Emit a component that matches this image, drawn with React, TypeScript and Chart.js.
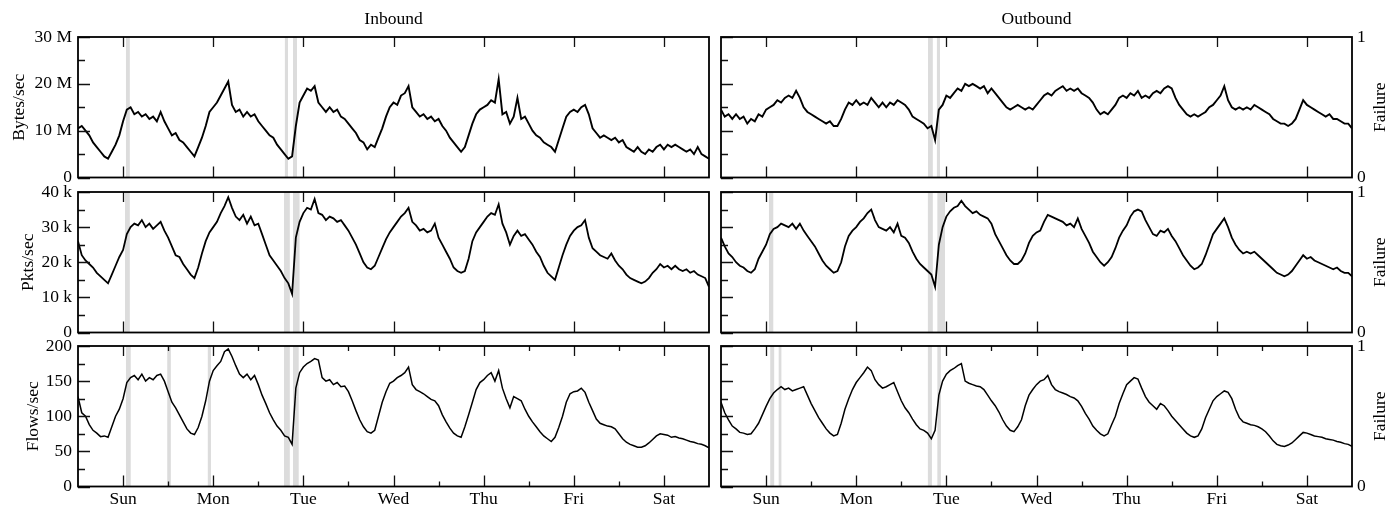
import React, { useEffect, useRef } from 'react';
import { Chart, registerables } from 'chart.js';

Chart.register(...registerables);

// ---------- data ----------
const DAY_LABELS = ['Sun', 'Mon', 'Tue', 'Wed', 'Thu', 'Fri', 'Sat'];
const DAY_TICKS = [0, 1, 2, 3, 4, 5, 6];
const HALF_DAY_TICKS = [0.5, 1.5, 2.5, 3.5, 4.5, 5.5];
const X_MIN = -0.5; // Saturday noon
const X_MAX = 6.5; // next Saturday noon
const SAMPLE_HOURS = 1;

// Inbound, bytes/sec (millions)
const IN_BYTES = [
  10.5, 11, 10, 9, 7.5, 6.5, 5.5, 4.5, 4, 5.5,
  7, 9, 12, 14.5, 15, 13.5, 14, 13, 13.5, 12.5,
  13, 12, 14, 12, 10.5, 9, 9.5, 8, 7.5, 6.5,
  5.5, 4.5, 6.5, 8.5, 11, 14, 15, 16, 17.5, 19,
  20.5, 15.5, 14, 14.5, 13, 14, 13, 13.5, 12, 11,
  10, 9, 8.5, 7, 6, 5, 4, 4.5, 11, 16,
  17.5, 19, 18.5, 19.5, 16, 15, 14, 15, 14, 14.5,
  13, 12.5, 11.5, 10.5, 9.5, 8, 7.5, 6, 7, 6.5,
  8.5, 10.5, 13, 15, 16, 15.5, 17.5, 18, 19.5, 15,
  14, 13, 13.5, 12.5, 13, 12, 12.5, 11, 10, 8.5,
  7.5, 6.5, 5.5, 6.5, 9, 11.5, 13.5, 14.5, 15, 15.5,
  16.5, 16, 21, 13.5, 14, 11.5, 13, 17, 12.5, 13,
  11.5, 10, 9, 8.5, 7.5, 7, 6.5, 5.5, 8, 10.5,
  13, 14, 14.5, 14, 15, 15.5, 13.5, 10.5, 9.5, 8.5,
  9, 8.5, 8, 8.5, 7.5, 8, 6.5, 6, 5.5, 6.5,
  5.5, 5, 6, 5.5, 6.5, 7, 6, 7, 6.5, 7,
  6.5, 6, 5.5, 6, 5, 6.5, 5, 4.5, 4,
];

// Inbound, packets/sec (thousands)
const IN_PKTS = [
  26, 22, 20.5, 19.5, 18.5, 17, 16, 15, 14, 16.5,
  19, 21.5, 23.5, 28, 30, 31, 30.5, 32, 30, 31,
  29.5, 30.5, 31.5, 29, 27, 24.5, 22, 21.5, 19.5, 18,
  16.5, 15.5, 18.5, 22.5, 26, 28.5, 30, 31.5, 34, 36,
  38.5, 35.5, 33, 32, 33.5, 31, 33, 30.5, 31, 28,
  25, 22, 20.5, 19, 17.5, 15.5, 14, 11, 27, 31.5,
  34, 35.5, 35, 38, 34, 33.5, 32, 33, 32.5, 31.5,
  32, 30.5, 29, 27, 25, 22.5, 20, 18.5, 18, 19,
  21.5, 24, 26.5, 28.5, 30, 31.5, 33, 34, 35.5, 31.5,
  30.5, 29, 29.5, 28.5, 29, 31, 27, 25, 23, 21,
  18.5, 17.5, 17, 17.5, 21, 26, 28.5, 30, 31.5, 33,
  34, 33.5, 36.5, 31, 28.5, 25, 27.5, 29, 27.5, 28,
  26.5, 25, 23, 21.5, 19, 17, 16, 15, 18.5, 22,
  25, 27.5, 29, 30, 30.5, 32, 27, 24, 23, 22,
  21.5, 21, 22.5, 20.5, 19, 18, 16.5, 15.5, 15, 14.5,
  14, 14.5, 15.5, 17, 18, 19.5, 18.5, 19, 18, 19,
  18, 17.5, 18, 17, 17.5, 16.5, 16, 15.5, 13,
];

// Inbound, flows/sec
const IN_FLOWS = [
  128, 105, 100, 88, 80, 76, 71, 72, 70, 85,
  100, 110, 125, 148, 155, 158, 152, 160, 150, 155,
  152, 158, 160, 150, 135, 120, 112, 102, 92, 82,
  76, 74, 84, 100, 122, 150, 165, 172, 178, 192,
  196, 185, 172, 160, 155, 160, 152, 158, 145, 130,
  118, 105, 95, 86, 80, 72, 70, 60, 140, 162,
  170, 175, 178, 182, 180, 155, 150, 152, 145, 148,
  142, 143, 135, 122, 108, 95, 85, 78, 76, 80,
  100, 120, 135, 147, 150, 155, 158, 162, 170, 145,
  138, 135, 132, 128, 124, 122, 115, 102, 92, 83,
  76, 72, 70, 85, 102, 120, 138, 148, 152, 158,
  162, 150, 165, 140, 125, 112, 128, 125, 122, 110,
  100, 92, 85, 78, 72, 68, 64, 70, 84, 100,
  120, 132, 135, 136, 140, 134, 120, 108, 96, 90,
  88, 86, 85, 82, 75, 68, 63, 60, 58, 56,
  56, 58, 62, 67, 72, 75, 74, 73, 70, 71,
  69, 68, 66, 64, 63, 61, 60, 58, 55,
];

// Outbound, bytes/sec (millions)
const OUT_BYTES = [
  14.5, 13, 13.5, 12.5, 13.5, 12.5, 13, 11.5, 12.5, 12,
  13.5, 13, 14.5, 15, 15.5, 16.5, 16, 17, 17.5, 17,
  18.5, 17, 15, 14, 13.5, 13, 12.5, 12, 11.5, 12,
  11, 11, 12.5, 14.5, 16, 15.5, 16.5, 15.5, 16, 15.5,
  17, 16, 15, 16, 15, 16, 15.5, 16.5, 16, 15.5,
  14.5, 13, 12.5, 12, 11.5, 10.5, 11, 8, 14.5, 15.5,
  17.5, 17, 18, 19, 18.5, 20, 19.5, 20, 19.5, 19,
  19.5, 18, 19, 18, 17, 16, 15, 14.5, 15, 15.5,
  15, 14.5, 15, 14.5, 15.5, 16.5, 17.5, 18, 17.5, 18.5,
  19, 19.5, 18.5, 19, 18.5, 19, 18, 17.5, 17, 16,
  14.5, 13.5, 14, 13.5, 14.5, 15.5, 17, 17.5, 17, 18,
  17.5, 18.5, 17, 17.5, 17, 18, 18.5, 18, 19, 19.5,
  19, 17, 15.5, 14.5, 13.5, 13, 13.5, 13, 13.5, 14,
  15, 15.5, 16.5, 17.5, 19.5, 16.5, 15, 14.5, 15, 14.5,
  15, 14.5, 15.5, 15, 14.5, 14, 13.5, 12.5, 12, 11.5,
  11.5, 11, 11.5, 12.5, 14.5, 16.5, 15.5, 15, 14.5, 14,
  13.5, 13, 13.5, 12.5, 12.5, 12, 11.5, 11.5, 10.5,
];

// Outbound, packets/sec (thousands)
const OUT_PKTS = [
  27, 24.5, 22.5, 21.5, 20, 19, 18.5, 17.5, 17, 18,
  21, 23, 25, 28, 29.5, 30, 31, 30.5, 30, 31,
  29.5, 31, 29, 27.5, 26, 24.5, 22.5, 20.5, 19, 18,
  17, 17.5, 20, 24.5, 27.5, 29, 30, 31.5, 32.5, 34,
  35, 32, 30, 29.5, 29, 30, 28.5, 31, 27.5, 27,
  25.5, 23, 21, 19.5, 18.5, 17.5, 16.5, 13, 25, 30,
  33, 34.5, 35.5, 36, 37.5, 36, 35, 34, 34.5, 33.5,
  33, 32.5, 31, 28, 26, 24, 22, 20.5, 19.5, 19.5,
  20.5, 22.5, 25.5, 27.5, 28.5, 29, 31.5, 33.5, 33, 32.5,
  32, 31.5, 30.5, 31, 30, 32.5, 29.5, 27.5, 25.5, 23,
  21.5, 20, 19, 20, 21.5, 24, 27, 29, 30.5, 33,
  34.5, 35, 34.5, 32, 30, 28, 27.5, 29, 28.5, 29.5,
  27.5, 26, 24, 22, 20.5, 19, 18, 18.5, 19.5, 22,
  25, 28, 29.5, 31, 32.5, 30, 27, 25, 23.5, 22.5,
  23, 22.5, 23, 22, 21, 20, 19, 18, 17, 16.5,
  16, 16.5, 17.5, 19, 20.5, 22, 21, 21.5, 20.5, 20,
  19.5, 19, 18.5, 18, 18.5, 17.5, 17, 17, 16,
];

// Outbound, flows/sec
const OUT_FLOWS = [
  120, 105, 95, 86, 82, 77, 76, 74, 75, 82,
  90, 102, 114, 125, 133, 138, 142, 138, 140, 136,
  138, 140, 142, 130, 118, 108, 98, 90, 82, 76,
  72, 74, 90, 110, 125, 138, 148, 155, 162, 170,
  165, 152, 145, 140, 142, 145, 148, 135, 122, 112,
  105, 96, 88, 82, 80, 76, 68, 80, 130, 150,
  160, 165, 168, 172, 175, 150, 147, 145, 143, 142,
  138, 130, 122, 115, 106, 95, 86, 80, 78, 85,
  95, 115, 130, 138, 145, 150, 152, 158, 145, 138,
  135, 133, 131, 128, 126, 122, 114, 104, 96, 86,
  80, 75, 72, 75, 88, 100, 118, 132, 145, 150,
  155, 153, 140, 128, 120, 115, 110, 118, 115, 108,
  100, 94, 88, 82, 76, 72, 70, 72, 82, 98,
  110, 122, 128, 132, 136, 134, 125, 110, 98, 92,
  90, 88, 87, 85, 82, 78, 72, 65, 60, 58,
  57, 59, 62, 67, 72, 77, 76, 74, 72, 71,
  70, 68, 67, 66, 64, 63, 61, 60, 57,
];

// Failure periods [start, end] in days (0 = Sunday 00:00)
const FAIL_IN_BYTES = [[0.03, 0.075], [1.795, 1.83], [1.885, 1.93]];
const FAIL_IN_PKTS = [[0.02, 0.075], [1.785, 1.85], [1.885, 1.96]];
const FAIL_IN_FLOWS = [[0.03, 0.085], [0.49, 0.53], [0.94, 0.975], [1.785, 1.85], [1.885, 1.95]];
const FAIL_OUT_BYTES = [[1.795, 1.85], [1.895, 1.93]];
const FAIL_OUT_PKTS = [[0.03, 0.08], [1.795, 1.85], [1.9, 1.985]];
const FAIL_OUT_FLOWS = [[0.045, 0.09], [0.14, 0.17], [1.795, 1.84], [1.9, 1.94]];

// Axis ticks
const BYTES_TICKS = [0, 10, 20, 30];
const BYTES_LABELS = ['0', '10 M', '20 M', '30 M'];
const BYTES_MINOR = [5, 15, 25];
const PKTS_TICKS = [0, 10, 20, 30, 40];
const PKTS_LABELS = ['0', '10 k', '20 k', '30 k', '40 k'];
const PKTS_MINOR = [5, 15, 25, 35];
const FLOWS_TICKS = [0, 50, 100, 150, 200];
const FLOWS_LABELS = ['0', '50', '100', '150', '200'];
const FLOWS_MINOR = [25, 75, 125, 175];
const FAIL_TICKS = [0, 1];
const FAIL_LABELS = ['0', '1'];

const COLUMN_TITLES = ['Inbound', 'Outbound'];
const ROW_TITLES = ['Bytes/sec', 'Pkts/sec', 'Flows/sec'];
const FAIL_TITLE = 'Failure';

// ---------- panel definitions ----------
const ROWS = [
  { ticks: BYTES_TICKS, labels: BYTES_LABELS, minor: BYTES_MINOR, max: 30, titlePad: 9, lineWidth: 1.9 },
  { ticks: PKTS_TICKS, labels: PKTS_LABELS, minor: PKTS_MINOR, max: 40, titlePad: 18, lineWidth: 1.8 },
  { ticks: FLOWS_TICKS, labels: FLOWS_LABELS, minor: FLOWS_MINOR, max: 200, titlePad: 23, lineWidth: 1.5 },
];
const SERIES = [
  [IN_BYTES, OUT_BYTES],
  [IN_PKTS, OUT_PKTS],
  [IN_FLOWS, OUT_FLOWS],
];
const FAILS = [
  [FAIL_IN_BYTES, FAIL_OUT_BYTES],
  [FAIL_IN_PKTS, FAIL_OUT_PKTS],
  [FAIL_IN_FLOWS, FAIL_OUT_FLOWS],
];

const FONT_FAMILY = "'Liberation Serif', 'Times New Roman', 'DejaVu Serif', serif";
const FONT = { family: FONT_FAMILY, size: 17.5 };

const CANVAS_H = 196;
const ROW_TOPS = [0, 155, 309];
const COL_LEFTS = [0, 715];
const COL_WIDTHS = [715, 673];

function Panel({ row, col }: { row: number; col: number }) {
  const ref = useRef<HTMLCanvasElement | null>(null);

  useEffect(() => {
    const r = ROWS[row];
    const isLeft = col === 0;
    const isBottom = row === 2;
    const values = SERIES[row][col];
    const fails = FAILS[row][col];

    const lineData = values.map((v, i) => ({ x: X_MIN + (i * SAMPLE_HOURS) / 24, y: v }));
    const bandData: { x: number; y: number }[] = [];
    fails.forEach(([s, e]) => {
      bandData.push({ x: s, y: 0 }, { x: s, y: 1 }, { x: e, y: 1 }, { x: e, y: 0 });
    });

    const decor = {
      id: 'decor',
      afterDatasetsDraw(chart: any) {
        const { ctx, chartArea: a, scales } = chart;
        ctx.save();
        ctx.strokeStyle = '#111';
        ctx.lineWidth = 1.3;
        ctx.beginPath();
        DAY_TICKS.forEach((v) => {
          const px = Math.round(scales.x.getPixelForValue(v)) + 0.5;
          ctx.moveTo(px, a.bottom);
          ctx.lineTo(px, a.bottom - 11);
          ctx.moveTo(px, a.top);
          ctx.lineTo(px, a.top + 10);
        });
        if (isBottom) {
          HALF_DAY_TICKS.forEach((v) => {
            const px = Math.round(scales.x.getPixelForValue(v)) + 0.5;
            ctx.moveTo(px, a.bottom);
            ctx.lineTo(px, a.bottom - 5);
            ctx.moveTo(px, a.top);
            ctx.lineTo(px, a.top + 5);
          });
        }
        r.ticks.forEach((v) => {
          const py = Math.round(scales.y.getPixelForValue(v)) + 0.5;
          ctx.moveTo(a.left, py);
          ctx.lineTo(a.left + 12, py);
        });
        r.minor.forEach((v) => {
          const py = Math.round(scales.y.getPixelForValue(v)) + 0.5;
          ctx.moveTo(a.left, py);
          ctx.lineTo(a.left + 7, py);
        });
        ctx.stroke();

        ctx.strokeStyle = '#000';
        ctx.lineWidth = 1.8;
        ctx.strokeRect(a.left, a.top, a.right - a.left, a.bottom - a.top);

        ctx.fillStyle = '#000';
        ctx.font = `${FONT.size}px ${FONT_FAMILY}`;
        if (row === 0) {
          ctx.textAlign = 'center';
          ctx.textBaseline = 'middle';
          ctx.fillText(COLUMN_TITLES[col], (a.left + a.right) / 2, 19.5);
        }
        if (!isLeft) {
          ctx.translate(665, (a.top + a.bottom) / 2);
          ctx.rotate(-Math.PI / 2);
          ctx.textAlign = 'center';
          ctx.textBaseline = 'middle';
          ctx.fillText(FAIL_TITLE, 0, 0);
        }
        ctx.restore();
      },
    };

    const chart = new Chart(ref.current as HTMLCanvasElement, {
      type: 'line',
      data: {
        datasets: [
          {
            data: lineData,
            borderColor: '#000',
            borderWidth: r.lineWidth,
            borderJoinStyle: 'miter',
            pointRadius: 0,
            tension: 0,
            fill: false,
            yAxisID: 'y',
            order: 0,
          } as any,
          {
            data: bandData,
            borderColor: 'rgba(0,0,0,0)',
            backgroundColor: '#dcdcdc',
            borderWidth: 0,
            pointRadius: 0,
            tension: 0,
            fill: 'origin',
            yAxisID: 'y2',
            order: 1,
          } as any,
        ],
      },
      options: {
        animation: false,
        responsive: false,
        events: [],
        layout: {
          padding: {
            left: isLeft ? 0 : 6,
            right: isLeft ? 6 : 0,
            top: 37,
            bottom: isBottom ? 0 : 18.5,
          },
        },
        plugins: {
          legend: { display: false },
          tooltip: { enabled: false },
          title: { display: false },
        },
        scales: {
          x: {
            type: 'linear',
            min: X_MIN,
            max: X_MAX,
            display: isBottom,
            offset: false,
            grid: { display: false, drawTicks: false },
            border: { display: false },
            afterBuildTicks: (s: any) => {
              s.ticks = DAY_TICKS.map((v) => ({ value: v }));
            },
            afterFit: (s: any) => {
              s.height = isBottom ? 18.5 : 0;
            },
            ticks: {
              autoSkip: false,
              maxRotation: 0,
              padding: 2,
              color: '#000',
              font: FONT,
              callback: (v: any) => {
                const i = DAY_TICKS.indexOf(Number(v));
                return i >= 0 ? DAY_LABELS[i] : '';
              },
            },
          },
          y: {
            type: 'linear',
            position: 'left',
            min: 0,
            max: r.max,
            display: isLeft,
            grid: { display: false, drawTicks: false },
            border: { display: false },
            afterBuildTicks: (s: any) => {
              s.ticks = r.ticks.map((v) => ({ value: v }));
            },
            afterFit: (s: any) => {
              s.width = isLeft ? 78 : 0;
            },
            ticks: {
              autoSkip: false,
              padding: 6,
              color: '#000',
              font: FONT,
              callback: (v: any) => {
                const i = r.ticks.indexOf(Number(v));
                return i >= 0 ? r.labels[i] : '';
              },
            },
            title: {
              display: true,
              text: ROW_TITLES[row],
              color: '#000',
              font: FONT,
              padding: { top: r.titlePad, bottom: 0 },
            },
          },
          y2: {
            type: 'linear',
            position: 'right',
            min: 0,
            max: 1,
            display: !isLeft,
            grid: { display: false, drawTicks: false },
            border: { display: false },
            afterBuildTicks: (s: any) => {
              s.ticks = FAIL_TICKS.map((v) => ({ value: v }));
            },
            afterFit: (s: any) => {
              s.width = isLeft ? 0 : 36;
            },
            ticks: {
              autoSkip: false,
              padding: 5,
              color: '#000',
              font: FONT,
              callback: (v: any) => {
                const i = FAIL_TICKS.indexOf(Number(v));
                return i >= 0 ? FAIL_LABELS[i] : '';
              },
            },
          },
        },
      } as any,
      plugins: [decor],
    });
    return () => chart.destroy();
  }, [row, col]);

  return (
    <canvas
      ref={ref}
      width={COL_WIDTHS[col]}
      height={CANVAS_H}
      style={{
        position: 'absolute',
        left: COL_LEFTS[col],
        top: ROW_TOPS[row],
        width: COL_WIDTHS[col],
        height: CANVAS_H,
      }}
    />
  );
}

export default function App() {
  const panels = [];
  for (let row = 0; row < 3; row++) {
    for (let col = 0; col < 2; col++) {
      panels.push(<Panel key={`${row}-${col}`} row={row} col={col} />);
    }
  }
  return (
    <div
      style={{
        position: 'absolute',
        left: 0,
        top: 0,
        width: 1388,
        height: 505,
        background: '#fff',
        overflow: 'hidden',
      }}
    >
      {panels}
    </div>
  );
}
